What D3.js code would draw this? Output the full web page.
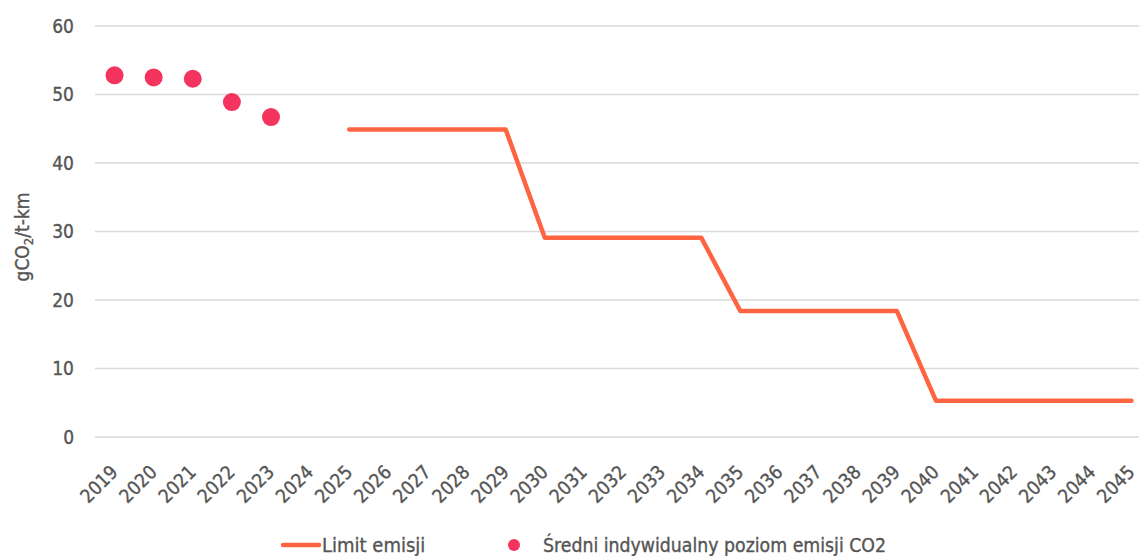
<!DOCTYPE html>
<html><head><meta charset="utf-8">
<script src="https://cdn.jsdelivr.net/npm/d3@7"></script>
<style>
body{margin:0;background:#fff;}
svg text{font-family:"DejaVu Sans Condensed","DejaVu Sans",sans-serif;font-stretch:condensed;fill:#555555;stroke:#555555;stroke-width:0.35px;}
</style></head><body>
<svg id="c" width="1139" height="556"></svg>
<script>
const years = d3.range(2019, 2046).map(String);
const avgYears = ["2019","2020","2021","2022","2023"];
const avgValues = [52.8, 52.5, 52.3, 48.9, 46.7];
const limitYears = ["2025","2026","2027","2028","2029","2030","2031","2032","2033","2034","2035","2036","2037","2038","2039","2040","2041","2042","2043","2044","2045"];
const limitValues = [44.9,44.9,44.9,44.9,44.9,29.1,29.1,29.1,29.1,29.1,18.4,18.4,18.4,18.4,18.4,5.3,5.3,5.3,5.3,5.3,5.3];
const yTicks = [0,10,20,30,40,50,60];
const legendLabels = ["Limit emisji","Średni indywidualny poziom emisji CO2"];

const svg = d3.select("#c");
const x = d3.scaleBand().domain(years).range([95, 1151]);
const y = d3.scaleLinear().domain([0,60]).range([437, 26]);
const cx = d => x(d) + x.bandwidth()/2;

// gridlines
svg.append("g").selectAll("line").data(yTicks).join("line")
  .attr("x1", 95).attr("x2", 1139)
  .attr("y1", d => y(d)).attr("y2", d => y(d))
  .attr("stroke", "#d9d9d9").attr("stroke-width", 1.3);

// y tick labels
svg.append("g").selectAll("text").data(yTicks).join("text")
  .attr("x", 74).attr("y", d => y(d)).attr("dy", "0.36em")
  .attr("text-anchor", "end").attr("font-size", 19).text(d => d);

// y title
const yt = svg.append("text").attr("transform", "translate(29,237) rotate(-90)")
  .attr("text-anchor", "middle").attr("font-size", 19);
yt.append("tspan").text("gCO");
yt.append("tspan").attr("font-size", 13).attr("dy", 4).text("2");
yt.append("tspan").attr("dy", -4).text("/t-km");

// x labels
svg.append("g").selectAll("text").data(years).join("text")
  .attr("text-anchor", "end").attr("font-size", 19)
  .attr("transform", d => `translate(${cx(d)-5},${464}) rotate(-45)`)
  .attr("dy", "0.7em").text(d => d);

// limit line
const line = d3.line().x((d,i) => cx(limitYears[i])).y(d => y(d));
svg.append("path").datum(limitValues).attr("d", line)
  .attr("fill", "none").attr("stroke", "#ff6442").attr("stroke-width", 4.5)
  .attr("stroke-linejoin", "round").attr("stroke-linecap", "round");

// avg dots
svg.append("g").selectAll("circle").data(avgValues).join("circle")
  .attr("cx", (d,i) => cx(avgYears[i])).attr("cy", d => y(d)).attr("r", 9)
  .attr("fill", "#f4345e");

// legend
const lg = svg.append("g");
lg.append("line").attr("x1", 283).attr("x2", 319).attr("y1", 545).attr("y2", 545)
  .attr("stroke", "#ff6442").attr("stroke-width", 4.5).attr("stroke-linecap", "round");
lg.append("text").attr("x", 322).attr("y", 545).attr("dy", "0.36em").attr("font-size", 20).text(legendLabels[0]);
lg.append("circle").attr("cx", 514).attr("cy", 545).attr("r", 6).attr("fill", "#f4345e");
lg.append("text").attr("x", 543).attr("y", 545).attr("dy", "0.36em").attr("font-size", 19.3).text(legendLabels[1]);
</script></body></html>
